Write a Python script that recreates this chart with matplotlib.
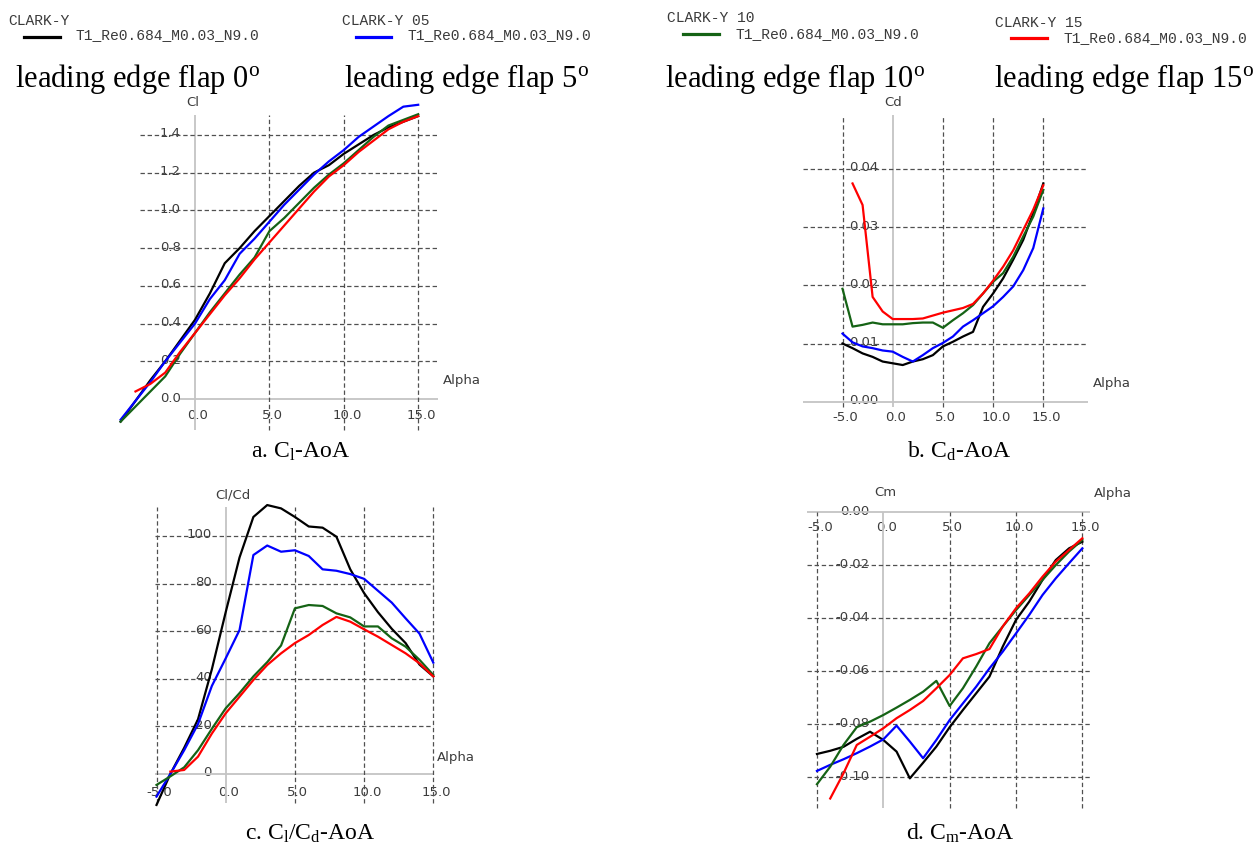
import matplotlib
matplotlib.use("Agg")
import matplotlib.pyplot as plt
from matplotlib.lines import Line2D
from matplotlib.transforms import offset_copy

plt.rcParams['mathtext.fontset'] = 'custom'
plt.rcParams['mathtext.rm'] = 'Liberation Serif'
plt.rcParams['mathtext.it'] = 'Liberation Serif:italic'

W, H = 1255, 856

# ---- data ----
alpha = list(range(-5, 16))
alpha_red = list(range(-4, 16))

names = ['CLARK-Y', 'CLARK-Y 05', 'CLARK-Y 10', 'CLARK-Y 15']
flaps = ['0', '5', '10', '15']
polar = 'T1_Re0.684_M0.03_N9.0'
colors = ['#000000', '#0000ff', '#156315', '#ff0000']

cl_0 = [-0.12, -0.01, 0.10, 0.20, 0.31, 0.42, 0.56, 0.72, 0.80, 0.89, 0.97,
        1.05, 1.13, 1.20, 1.24, 1.30, 1.35, 1.40, 1.44, 1.47, 1.50]
cl_5 = [-0.11, -0.01, 0.09, 0.20, 0.30, 0.40, 0.53, 0.63, 0.77, 0.85, 0.94,
        1.03, 1.11, 1.19, 1.26, 1.32, 1.39, 1.445, 1.50, 1.55, 1.56]
cl_10 = [-0.12, -0.04, 0.04, 0.12, 0.24, 0.35, 0.46, 0.56, 0.66, 0.75, 0.89,
         0.96, 1.04, 1.12, 1.19, 1.25, 1.32, 1.39, 1.45, 1.48, 1.51]
cl_15 = [0.04, 0.08, 0.14, 0.25, 0.35, 0.45, 0.55, 0.64, 0.74, 0.83,
         0.92, 1.01, 1.10, 1.18, 1.24, 1.31, 1.37, 1.43, 1.47, 1.50]

cd_0 = [0.0100, 0.0092, 0.0083, 0.0077, 0.0069, 0.0066, 0.0063, 0.0069, 0.0073, 0.0080, 0.0095,
        0.0103, 0.0112, 0.0120, 0.0163, 0.0186, 0.0212, 0.0244, 0.0278, 0.0324, 0.0375]
cd_5 = [0.0117, 0.0102, 0.0095, 0.0092, 0.0088, 0.0086, 0.0077, 0.0069, 0.0080, 0.0092, 0.0101,
        0.0112, 0.0129, 0.0140, 0.0152, 0.0164, 0.0180, 0.0198, 0.0226, 0.0264, 0.0332]
cd_10 = [0.0194, 0.0129, 0.0132, 0.0136, 0.0133, 0.0133, 0.0133, 0.0135, 0.0136, 0.0136, 0.0127,
         0.0140, 0.0152, 0.0166, 0.0186, 0.0206, 0.0221, 0.0249, 0.0284, 0.0318, 0.0364]
cd_15 = [0.0375, 0.0338, 0.0180, 0.0155, 0.0142, 0.0142, 0.0142, 0.0143, 0.0148, 0.0153,
         0.0157, 0.0161, 0.0168, 0.0186, 0.0208, 0.0232, 0.0260, 0.0295, 0.0330, 0.0372]

clcd_0 = [-13, 0, 11, 23, 44, 68, 91, 108, 113, 111.6, 108,
          104, 103.5, 99.7, 86, 76, 68, 61, 55, 46, 41]
clcd_5 = [-9.5, 0, 10, 21, 37, 48.6, 60.5, 92, 96, 93.4, 94,
          91.6, 86, 85.4, 84, 82, 77, 72, 65.4, 59, 46.8]
clcd_10 = [-4.6, -1, 2.8, 10, 19, 27.6, 34, 41, 47, 54, 69.6,
           71, 70.6, 67.5, 65.8, 62, 62, 57, 53.5, 48, 41.6]
clcd_15 = [1, 1.7, 7.3, 17, 25.5, 32.5, 39.5, 45.8, 50.7, 55,
           58.4, 62.6, 66, 64, 60.8, 57.7, 54.2, 50.7, 46.5, 41]

cm_0 = [-0.0912, -0.0900, -0.0885, -0.0855, -0.0828, -0.0859, -0.0903, -0.1004, -0.0945, -0.0884, -0.0811,
        -0.0746, -0.0683, -0.0620, -0.0507, -0.0406, -0.0337, -0.0255, -0.0180, -0.0136, -0.0111]
cm_5 = [-0.0976, -0.0953, -0.0932, -0.0909, -0.0884, -0.0857, -0.0805, -0.0865, -0.0928, -0.0859, -0.0784,
        -0.0721, -0.0658, -0.0589, -0.0526, -0.0457, -0.0387, -0.0312, -0.0249, -0.0192, -0.0136]
cm_10 = [-0.1026, -0.0960, -0.0878, -0.0811, -0.0790, -0.0765, -0.0737, -0.0708, -0.0677, -0.0636, -0.0731,
         -0.0664, -0.0582, -0.0494, -0.0431, -0.0369, -0.0312, -0.0255, -0.0199, -0.0148, -0.0104]
cm_15 = [-0.1080, -0.0985, -0.0878, -0.0847, -0.0815, -0.0777, -0.0746, -0.0712, -0.0664, -0.0614,
         -0.0551, -0.0535, -0.0516, -0.0431, -0.0362, -0.0306, -0.0243, -0.0186, -0.0142, -0.0098]

GRID = '#505050'
AXIS = '#c4c4c4'
TXT = '#3c3c3c'
TICKFONT = dict(family='DejaVu Sans', size=9.5, color=TXT)

fig = plt.figure(figsize=(W / 100, H / 100), dpi=100)
fig.patch.set_facecolor('white')


def px(x, y):
    return x / W, 1 - y / H


def panel(box, origin, scale):
    # box and origin in image pixels, scale = pixels per data unit
    left, top, right, bottom = box
    x0, y0 = origin
    sx, sy = scale
    ax = fig.add_axes([left / W, 1 - bottom / H, (right - left) / W, (bottom - top) / H])
    ax.set_xlim((left - x0) / sx, (right - x0) / sx)
    ax.set_ylim((y0 - bottom) / sy, (y0 - top) / sy)
    ax.axis('off')
    return ax


def frame(ax, xticks, yticks, yfmt, vspan, hspan, axspan, xlab_dy):
    ax.vlines(0, *vspan, colors=AXIS, lw=1.3, zorder=1)
    ax.hlines(0, *axspan, colors=AXIS, lw=1.3, zorder=1)
    ax.vlines([t for t in xticks if t != 0], *vspan, colors=GRID, lw=0.9,
              linestyles=(0, (3.5, 2.2)), zorder=2)
    ax.hlines([t for t in yticks if t != 0], *hspan, colors=GRID, lw=0.9,
              linestyles=(0, (3.5, 2.2)), zorder=2)
    tx = offset_copy(ax.transData, fig, x=3, y=-xlab_dy, units='dots')
    for t in xticks:
        ax.text(t, 0, f'{t:.1f}', transform=tx, ha='center', va='center',
                zorder=0.5, **TICKFONT)
    ty = offset_copy(ax.transData, fig, x=-14, y=1, units='dots')
    for t in yticks:
        ax.text(0, t, yfmt.format(t), transform=ty, ha='right', va='center',
                zorder=0.5, **TICKFONT)


def curves(ax, series):
    for (xs, ys), c in zip(series, colors):
        ax.plot(xs, ys, color=c, lw=1.6, zorder=3, solid_joinstyle='round')


# a. Cl
ax = panel((100, 95, 480, 435), (195, 399), (14.88, 188.6))
frame(ax, [0, 5, 10, 15], [0.0, 0.2, 0.4, 0.6, 0.8, 1.0, 1.2, 1.4], '{:.1f}',
      (-0.165, 1.505), (-3.7, 16.3), (-1.0, 16.3), 16)
curves(ax, [(alpha, cl_0), (alpha, cl_5), (alpha, cl_10), (alpha_red, cl_15)])

# b. Cd
ax = panel((790, 95, 1180, 435), (892.7, 401.7), (10.04, 5820))
frame(ax, [-5, 0, 5, 10, 15], [0.0, 0.01, 0.02, 0.03, 0.04], '{:.2f}',
      (-0.0009, 0.0493), (-8.93, 19.45), (-8.93, 19.45), 16)
curves(ax, [(alpha, cd_0), (alpha, cd_5), (alpha, cd_10), (alpha_red, cd_15)])

# c. Cl/Cd
ax = panel((130, 480, 480, 815), (225.7, 774), (13.84, 2.38))
frame(ax, [-5, 0, 5, 10, 15], [0, 20, 40, 60, 80, 100], '{:d}',
      (-12.2, 112.2), (-5.1, 15.0), (-5.1, 15.0), 19)
curves(ax, [(alpha, clcd_0), (alpha, clcd_5), (alpha, clcd_10), (alpha_red, clcd_15)])

# d. Cm
ax = panel((790, 480, 1180, 815), (883.3, 512.3), (13.27, 2650))
frame(ax, [-5, 0, 5, 10, 15], [0.0, -0.02, -0.04, -0.06, -0.08, -0.10], '{:.2f}',
      (-0.1117, 0.0), (-5.75, 15.6), (-5.75, 15.6), 15)
curves(ax, [(alpha, cm_0), (alpha, cm_5), (alpha, cm_10), (alpha_red, cm_15)])

# axis names
for label, (x, y) in [('Cl', (193, 103)), ('Alpha', (462, 381)),
                      ('Cd', (893, 103)), ('Alpha', (1112, 383)),
                      ('Cl/Cd', (233, 495)), ('Alpha', (456, 757)),
                      ('Cm', (885, 493)), ('Alpha', (1113, 493))]:
    fig.text(*px(x, y), label, ha='center', va='center', **TICKFONT)

# legends and flap titles
leg_pos = [(8, 21, 24, 60, 37, 76, 35),
           (342, 21, 356, 391, 37, 407, 35),
           (667, 18, 683, 719, 34, 735, 34),
           (995, 23, 1011, 1047, 38, 1063, 38)]
title_x = [15, 344, 665, 994]
for name, flap, c, (nx, ny, l0, l1, ly, tx_, ty_), tx in zip(names, flaps, colors, leg_pos, title_x):
    fig.text(*px(nx, ny), name, ha='left', va='center', family='Liberation Mono',
             size=10.5, color='#3a3a3a')
    fig.add_artist(Line2D([l0 / W, l1 / W], [1 - ly / H, 1 - ly / H], color=c, lw=2.3))
    fig.text(*px(tx_, ty_), polar, ha='left', va='center', family='Liberation Mono',
             size=10.5, color='#3a3a3a')
    fig.text(*px(tx, 87), 'leading edge flap ' + flap + r'$^{\mathrm{o}}$', ha='left',
             va='baseline', family='Liberation Serif', size=22, color='black')

# captions
for cap, (x, y) in [(r'a. C$_{\mathrm{l}}$-AoA', (301, 458)),
                    (r'b. C$_{\mathrm{d}}$-AoA', (959, 458)),
                    (r'c. C$_{\mathrm{l}}$/C$_{\mathrm{d}}$-AoA', (310, 840)),
                    (r'd. C$_{\mathrm{m}}$-AoA', (960, 840))]:
    fig.text(*px(x, y), cap, ha='center', va='baseline', family='Liberation Serif',
             size=17, color='black')

fig.savefig('out.png', dpi=100, facecolor='white')
